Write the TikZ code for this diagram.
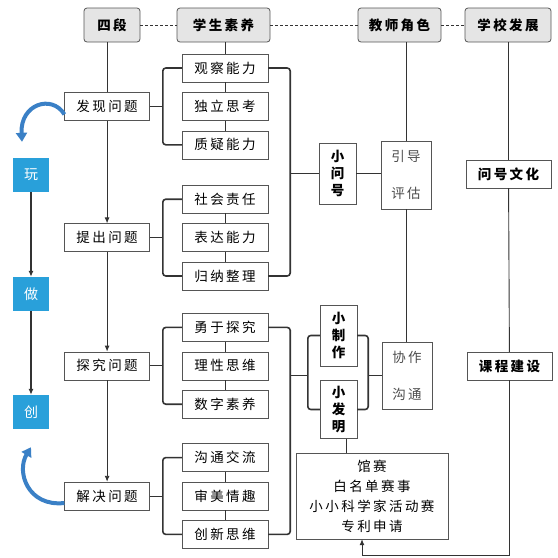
\documentclass[tikz,border=0pt]{standalone}
\usepackage{fontspec}
\setmainfont{Noto Sans CJK SC}
\usetikzlibrary{arrows.meta,positioning}

\definecolor{playblue}{RGB}{41,160,218}
\definecolor{swingblue}{RGB}{58,128,198}
\definecolor{boxline}{RGB}{85,85,85}

\begin{document}
\begin{tikzpicture}[
    x=1pt, y=-1pt,
    node distance=10pt,
    every node/.style={font=\fontsize{13.5}{20}\selectfont\addfontfeatures{LetterSpace=18}, inner sep=2pt},
    head/.style={draw=boxline, fill=gray!20, rounded corners=3pt, minimum height=34pt, line width=0.8pt, font=\fontsize{13.5}{20}\selectfont\bfseries\addfontfeatures{LetterSpace=18}},
    stage/.style={draw=boxline, minimum width=85pt, minimum height=28pt},
    skill/.style={draw=boxline, minimum width=86pt, minimum height=28pt},
    plan/.style={draw=boxline, minimum width=85pt, minimum height=28pt, font=\fontsize{13.5}{20}\selectfont\bfseries\addfontfeatures{LetterSpace=18}},
    tall/.style={draw=boxline, align=center, minimum width=37pt, minimum height=61pt, font=\fontsize{13.5}{17}\selectfont\bfseries},
    role/.style={draw=boxline, align=center, minimum width=50pt, text=black!70, font=\fontsize{13.5}{37}\selectfont\addfontfeatures{LetterSpace=18}},
    event/.style={draw=boxline, align=center, minimum width=152pt, minimum height=86pt},
    play/.style={fill=playblue, text=white, minimum width=36pt, minimum height=34pt, font=\fontsize{14}{16}\selectfont},
    link/.style={line width=0.9pt, draw=black!80},
    brace/.style={line width=1.6pt, draw=black!80, rounded corners=3pt},
    arrow/.style={-{Latex[length=6pt, width=5pt]}, line width=0.9pt, draw=black!80},
    swing/.style={-{Triangle[length=9pt, width=11pt]}, line width=4pt, draw=swingblue}
]
% headers
\node[head, minimum width=56pt] (hstage) at (112,25) {四段};
\node[head, minimum width=93pt] (hquality) at (223.5,25) {学生素养};
\node[head, minimum width=83pt] (hteacher) at (399.5,25) {教师角色};
\node[head, minimum width=86pt] (hschool) at (508,25) {学校发展};

% student qualities
\node[skill] (obs) at (225,68) {观察能力};
\node[skill, below=of obs] (ind) {独立思考};
\node[skill, below=of ind] (que) {质疑能力};
\node[skill, below=26pt of que] (soc) {社会责任};
\node[skill, below=of soc] (exp) {表达能力};
\node[skill, below=of exp] (sum) {归纳整理};
\node[skill, below=23pt of sum] (bra) {勇于探究};
\node[skill, below=of bra] (rat) {理性思维};
\node[skill, below=of rat] (dig) {数字素养};
\node[skill, below=25pt of dig] (com) {沟通交流};
\node[skill, below=of com] (aes) {审美情趣};
\node[skill, below=of aes] (inn) {创新思维};

% four stages
\node[stage, left=32pt of ind] (find) {发现问题};
\node[stage, left=32pt of exp] (raise) {提出问题};
\node[stage, left=32pt of rat] (explore) {探究问题};
\node[stage, left=32pt of aes] (solve) {解决问题};

% play, make, create
\node[play] (wan) at (31,175) {玩};
\node[play] (zuo) at (31,294) {做};
\node[play] (chuang) at (31,412) {创};

% teacher roles
\node[tall] (qmark) at (337.5,173.5) {小\\问\\号};
\node[role, minimum height=68pt] (guide) at (406,175) {引导\\评估};
\node[tall] (make) at (338.5,335.5) {小\\制\\作};
\node[tall, minimum height=58pt] (invent) at (338.5,409.5) {小\\发\\明};
\node[role, minimum height=67pt] (collab) at (407,375.5) {协作\\沟通};
\node[event] (contest) at (372,496) {馆赛\\白名单赛事\\小小科学家活动赛\\专利申请};

% school development
\node[plan] (culture) at (508.5,174) {问号文化};
\node[plan] (course) at (509.5,366) {课程建设};

% header dashes
\draw[link, dash pattern=on 3pt off 2pt] (hstage) -- (hquality);
\draw[link, dash pattern=on 3pt off 2pt] (hquality) -- (hteacher);
\draw[link, dash pattern=on 3pt off 2pt] (hteacher) -- (hschool);

% stage spine
\draw[link] (find.north |- hstage.south) -- (find.north);
\draw[arrow] (find) -- (raise);
\draw[arrow] (raise) -- (explore);
\draw[arrow] (explore) -- (solve);

% quality column
\draw[link] (obs.north |- hquality.south) -- (obs.north);
\draw[link] (obs) -- (ind) -- (que);
\draw[link] (soc) -- (exp) -- (sum);
\draw[link] (bra) -- (rat) -- (dig);
\draw[link] (com) -- (aes) -- (inn);
\foreach \stg/\fst/\lst in {find/obs/que, raise/soc/sum, explore/bra/dig, solve/com/inn} {
  \draw[brace] (\fst.west) -- ++(-19,0) coordinate (\stg-b) |- (\lst.west);
  \draw[link] (\stg.east) -- (\stg.east -| \stg-b);
}

% teacher side
\draw[brace] (obs.east) -- ++(22,0) coordinate (r1) |- (sum.east);
\draw[link] (r1 |- qmark) -- (qmark.west);
\draw[link] (qmark.east) -- (qmark.east -| guide.west);
\draw[link] (guide.north |- hteacher.south) -- (guide.north);
\draw[link] (guide.south) -- (guide.south |- collab.north);
\draw[brace] (bra.east) -- ++(22,0) coordinate (r2) |- (inn.east);
\draw[link] (r2 |- collab) -- ++(18,0);
\draw[brace] (make.west) -- ++(-12,0) |- (invent.west);
\draw[brace] (make.east) -- ++(11,0) coordinate (r3) |- (invent.east);
\draw[link] (r3 |- collab) -- (collab.west);
\draw[link] ([xshift=8pt]invent.south) -- ([xshift=8pt]invent.south |- contest.north);

% school side
\draw[link] (culture.north |- hschool.south) -- (culture.north);
\draw[link] (culture) -- (course);
\coordinate (corner) at (course.south |- 0,555);
\draw[arrow] (course.south) -- (corner) -| ([xshift=-10pt]contest.south);

% play chain
\draw[arrow, line width=1.2pt] (wan) -- (zuo);
\draw[arrow, line width=1.2pt] (zuo) -- (chuang);
\draw[swing] ([yshift=-8pt]find.west) .. controls (52,94) and (20,104) .. ([xshift=-9pt, yshift=16pt]wan.north);
\draw[swing] ([yshift=-7pt]solve.west) .. controls (28,507) and (16,472) .. ([yshift=-18pt]chuang.south);

\useasboundingbox (0,0) rectangle (558,558);
\end{tikzpicture}
\end{document}
